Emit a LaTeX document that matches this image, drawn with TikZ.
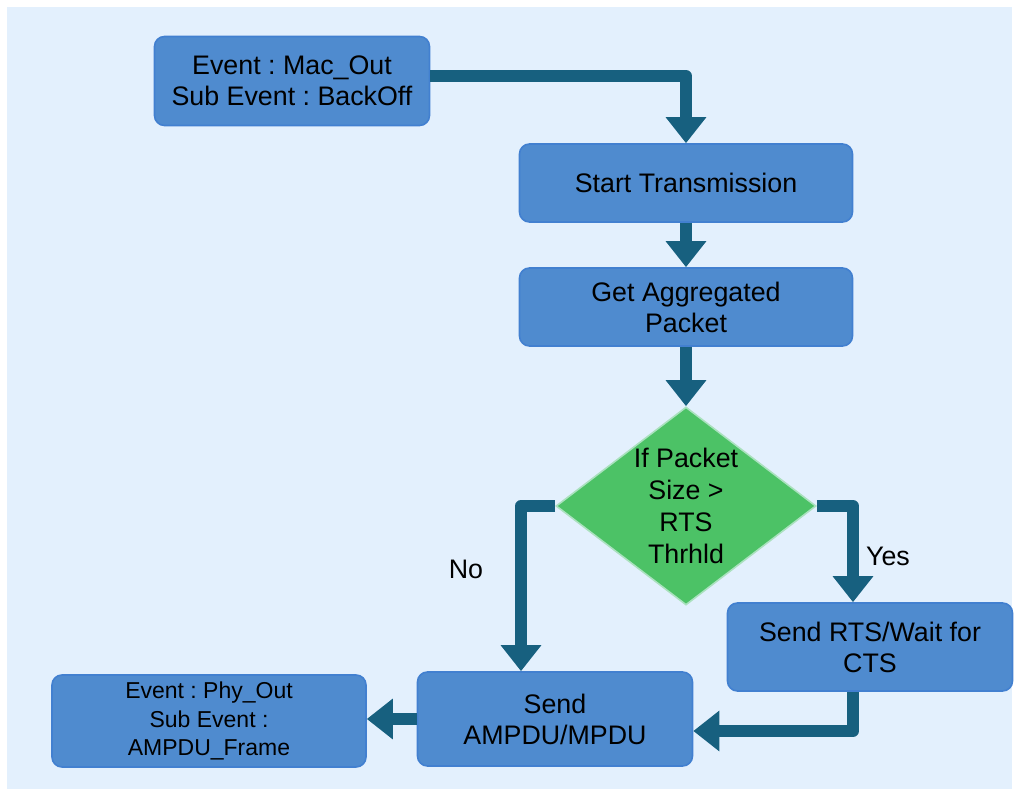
\documentclass[tikz,border=0pt]{standalone}
\usepackage{fontspec}
\setmainfont{Liberation Sans}
\usetikzlibrary{arrows.meta,shapes.geometric}
\frenchspacing

\definecolor{bgblue}{RGB}{227,240,253}
\definecolor{boxfill}{RGB}{79,139,207}
\definecolor{boxline}{RGB}{66,128,208}
\definecolor{flowblue}{RGB}{23,96,127}
\definecolor{decfill}{RGB}{76,194,102}
\definecolor{decline}{RGB}{170,225,190}

\tikzset{
  box/.style={rectangle, rounded corners=5pt, fill=boxfill, draw=boxline, line width=0.8pt,
    align=center, inner sep=0pt, font=\fontsize{13.4}{15.5}\selectfont},
  decision/.style={diamond, fill=decfill, draw=decline, line width=0.8pt, inner sep=0pt,
    minimum width=130pt, minimum height=99pt},
  flow/.style={draw=flowblue, line width=6pt, line join=round,
    -{Triangle[width=19.5pt,length=13pt]}, color=flowblue},
  lbl/.style={font=\fontsize{13.4}{15.5}\selectfont}
}

\begin{document}
\begin{tikzpicture}[x=0.5pt, y=-0.5pt]
  \useasboundingbox (0,0) rectangle (1019,796);
  \fill[bgblue] (7,7) rectangle (1012,789);

  \node[box, minimum width=137.5pt, minimum height=44.5pt] (macout) at (292,81) {Event : Mac\_Out\\Sub Event : BackOff};
  \node[box, minimum width=166.5pt, minimum height=39pt] (start) at (686,183) {Start Transmission};
  \node[box, minimum width=166.5pt, minimum height=39pt] (getpkt) at (686,307) {Get Aggregated\\Packet};
  \node[decision, label={[align=center, font=\fontsize{13.4}{16}\selectfont]center:If Packet\\Size >\\RTS\\Thrhld}] (check) at (686,506) {};
  \node[box, minimum width=142.5pt, minimum height=44pt] (rts) at (870,647) {Send RTS/Wait for\\CTS};
  \node[box, minimum width=137.5pt, minimum height=47pt] (send) at (555,719) {Send\\AMPDU/MPDU};
  \node[box, minimum width=157pt, minimum height=46pt, font=\fontsize{11.5}{14.2}\selectfont] (phyout) at (209,721) {Event : Phy\_Out\\Sub Event :\\AMPDU\_Frame};

  \node[lbl] (lblno) at (466,569) {No};
  \node[lbl] (lblyes) at (888,556) {Yes};

  \draw[flow] ([yshift=2.5pt]macout.east) -| (start.north);
  \draw[flow] (start.south) -- (getpkt.north);
  \draw[flow] (getpkt.south) -- (check.north);
  \draw[flow] (check.west) -| ([xshift=-17pt]send.north);
  \draw[flow] (check.east) -| ([xshift=-8.5pt]rts.north);
  \draw[flow] ([xshift=-8.5pt]rts.south) |- ([yshift=-6pt]send.east);
  \draw[flow] (send.west) -- (send.west -| phyout.east);
\end{tikzpicture}
\end{document}
